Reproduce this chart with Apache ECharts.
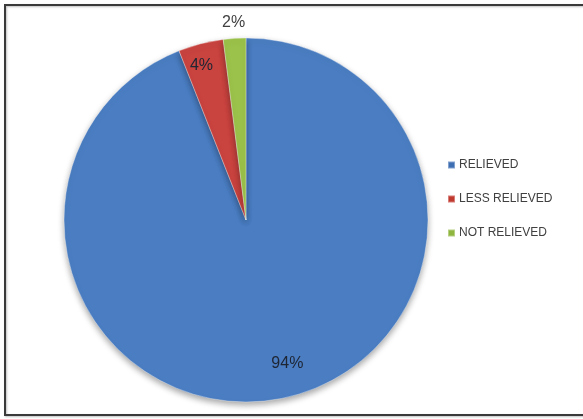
<!DOCTYPE html>
<html>
<head>
<meta charset="utf-8">
<script src="https://cdn.jsdelivr.net/npm/echarts@6/dist/echarts.min.js"></script>
<style>
html,body{margin:0;padding:0;background:#fff;}
#chart{width:583px;height:419px;}
</style>
</head>
<body>
<div id="chart"></div>
<script>
const categories = ['RELIEVED', 'LESS RELIEVED', 'NOT RELIEVED'];
const values = [94, 4, 2];
const sliceColors = ['#4a7dc2', '#c9433f', '#9bc24a'];
const legendColors = ['#3f6fb3', '#c0392f', '#8fb63f'];

const chart = echarts.init(document.getElementById('chart'), null, {renderer: 'canvas'});

const CX = 246, CY = 220, R = 182;
const font = 'Liberation Sans, Arial, sans-serif';

const mainData = categories.map((name, i) => ({
  name: name,
  value: values[i],
  itemStyle: {color: sliceColors[i]}
}));

// transparent overlay pie that only carries the label of slice `idx`,
// placed at the middle of the radial band [r0, r1]
function labelOverlay(idx, r0, r1, color, padding) {
  return {
    type: 'pie',
    center: [CX, CY],
    radius: [r0, r1],
    startAngle: 90,
    clockwise: true,
    silent: true,
    avoidLabelOverlap: false,
    itemStyle: {color: 'rgba(0,0,0,0)'},
    label: {position: 'inside', formatter: '{c}%', fontFamily: font, fontSize: 16, color: color, padding: padding},
    labelLine: {show: false},
    emphasis: {disabled: true},
    data: categories.map((name, i) => ({name: name, value: values[i], label: {show: i === idx}}))
  };
}

const option = {
  animation: false,
  backgroundColor: '#ffffff',
  color: legendColors,
  graphic: [{
    type: 'rect',
    shape: {x: 5, y: 5, width: 620, height: 410},
    style: {fill: 'none', stroke: '#3a3a3a', lineWidth: 2,
      shadowColor: 'rgba(0,0,0,0.25)', shadowBlur: 2, shadowOffsetX: 1, shadowOffsetY: 1},
    silent: true,
    z: 100
  }],
  legend: {
    orient: 'vertical',
    left: 442,
    top: 153,
    itemWidth: 7,
    itemHeight: 7,
    itemGap: 20,
    icon: 'rect',
    data: categories.map((name, i) => ({name: name, itemStyle: {color: legendColors[i]}})),
    textStyle: {fontFamily: font, fontSize: 12, color: '#404040', lineHeight: 14, padding: [0, 0, 0, -1]}
  },
  series: [
    {
      type: 'pie',
      center: [CX, CY],
      radius: [0, R],
      startAngle: 90,
      clockwise: true,
      avoidLabelOverlap: false,
      silent: true,
      label: {show: false},
      labelLine: {show: false},
      itemStyle: {
        borderColor: 'rgba(255,255,255,0.35)',
        borderWidth: 1,
        shadowColor: 'rgba(0,0,0,0.35)',
        shadowBlur: 6,
        shadowOffsetY: 3
      },
      data: mainData
    },
    labelOverlay(0, 104, R, '#1e2533', [0, 0, 0, 28]),
    labelOverlay(1, 130, R, '#1e2533', [0, 10, 0, 0]),
    labelOverlay(2, R, 208, '#404040', [0, 0, 0, 0])
  ]
};
chart.setOption(option);
</script>
</body>
</html>
